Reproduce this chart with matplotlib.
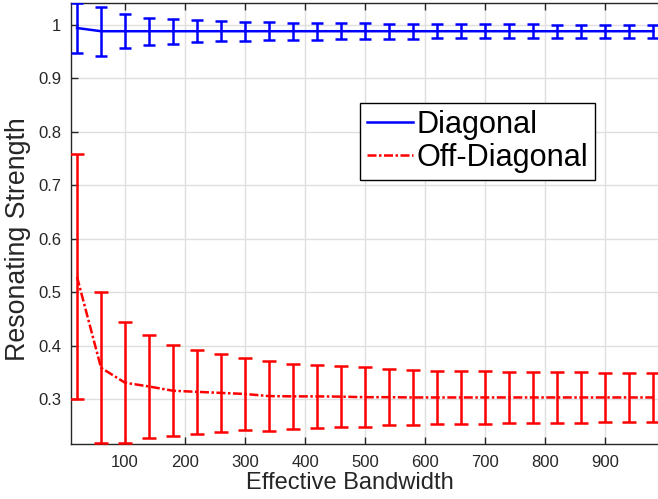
import matplotlib
matplotlib.use("Agg")
import matplotlib.pyplot as plt
from matplotlib.lines import Line2D

plt.rcParams['font.family'] = ['Liberation Sans', 'DejaVu Sans']

bandwidth = [20, 60, 100, 140, 180, 220, 260, 300, 340, 380, 420, 460, 500,
             540, 580, 620, 660, 700, 740, 780, 820, 860, 900, 940, 980]

diag_mean = [0.994, 0.988, 0.988, 0.988, 0.988, 0.988, 0.988, 0.988, 0.988,
             0.988, 0.988, 0.988, 0.988, 0.988, 0.988, 0.988, 0.988, 0.988,
             0.988, 0.988, 0.988, 0.988, 0.988, 0.988, 0.988]
diag_err = [0.046, 0.046, 0.032, 0.025, 0.023, 0.0205, 0.019, 0.018, 0.017,
            0.016, 0.0155, 0.015, 0.0145, 0.014, 0.014, 0.0135, 0.0135, 0.013,
            0.013, 0.013, 0.0125, 0.0125, 0.0125, 0.012, 0.012]

off_mean = [0.529, 0.359, 0.331, 0.324, 0.316, 0.314, 0.312, 0.310, 0.306,
            0.3055, 0.3055, 0.305, 0.304, 0.304, 0.3035, 0.3035, 0.3035, 0.3035,
            0.3035, 0.3035, 0.3035, 0.3035, 0.3035, 0.3035, 0.3035]
off_err = [0.229, 0.141, 0.1135, 0.097, 0.085, 0.078, 0.073, 0.068, 0.065,
           0.0605, 0.0585, 0.057, 0.056, 0.0525, 0.0515, 0.0495, 0.0495, 0.0495,
           0.048, 0.048, 0.047, 0.047, 0.046, 0.046, 0.045]

xticks = [100, 200, 300, 400, 500, 600, 700, 800, 900]
yticks = [0.3, 0.4, 0.5, 0.6, 0.7, 0.8, 0.9, 1.0]
ytick_labels = ['0.3', '0.4', '0.5', '0.6', '0.7', '0.8', '0.9', '1']
series_labels = ['Diagonal', 'Off-Diagonal']

W, H = 658, 499
ax_left, ax_right, ax_top, ax_bot = 71, 665.3, 2.7, 444
fig = plt.figure(figsize=(W / 100, H / 100), dpi=100)
ax = fig.add_axes([ax_left / W, 1 - ax_bot / H, (ax_right - ax_left) / W,
                   (ax_bot - ax_top) / H])

dark = '#262626'
lw = 1.8
dashdot = (0, (3.6, 1.0, 1.0, 1.0))

ax.errorbar(bandwidth, diag_mean, yerr=diag_err, color='blue', lw=lw,
            ls='-', capsize=4.5, capthick=lw, elinewidth=lw, zorder=3)
ax.errorbar(bandwidth, off_mean, yerr=off_err, color='red', lw=lw,
            ls=dashdot, capsize=5, capthick=lw, elinewidth=lw, zorder=3)

ax.set_xlim(10, 1000)
ax.set_ylim(0.2165, 1.0413)
ax.set_xticks(xticks)
ax.set_yticks(yticks)
ax.set_yticklabels(ytick_labels)

ax.grid(True, color='#dfdfdf', lw=1.0, zorder=0)
ax.set_axisbelow(True)
for s in ax.spines.values():
    s.set_color(dark)
    s.set_linewidth(1.0)
ax.tick_params(direction='in', length=5, width=1.0, colors=dark,
               labelsize=12, top=True, right=True, labelcolor=dark)
ax.tick_params(axis='x', pad=8)
ax.tick_params(axis='y', pad=7)

ax.set_xlabel('Effective Bandwidth', fontsize=17, color=dark)
ax.set_ylabel('Resonating Strength', fontsize=19.3, color=dark)
ax.xaxis.set_label_coords((350 - ax_left) / (ax_right - ax_left),
                          -(483 - ax_bot) / (ax_bot - ax_top))
ax.xaxis.label.set_va('center')
ax.yaxis.set_label_coords(-(ax_left - 18) / (ax_right - ax_left),
                          1 - (239.5 - ax_top) / (ax_bot - ax_top))
ax.yaxis.label.set_va('center')

handles = [Line2D([], [], color='blue', lw=lw, ls='-'),
           Line2D([], [], color='red', lw=lw, ls=dashdot)]
leg = ax.legend(handles, series_labels, loc='upper left',
                bbox_to_anchor=(360 / W, 1 - 103 / H),
                bbox_transform=fig.transFigure, borderaxespad=0,
                fontsize=22.1, handlelength=1.5, handletextpad=0.13,
                borderpad=0.22, labelspacing=0.1, fancybox=False,
                framealpha=1, edgecolor='black')
leg.get_frame().set_linewidth(1.0)

fig.savefig('out.png', dpi=100)
